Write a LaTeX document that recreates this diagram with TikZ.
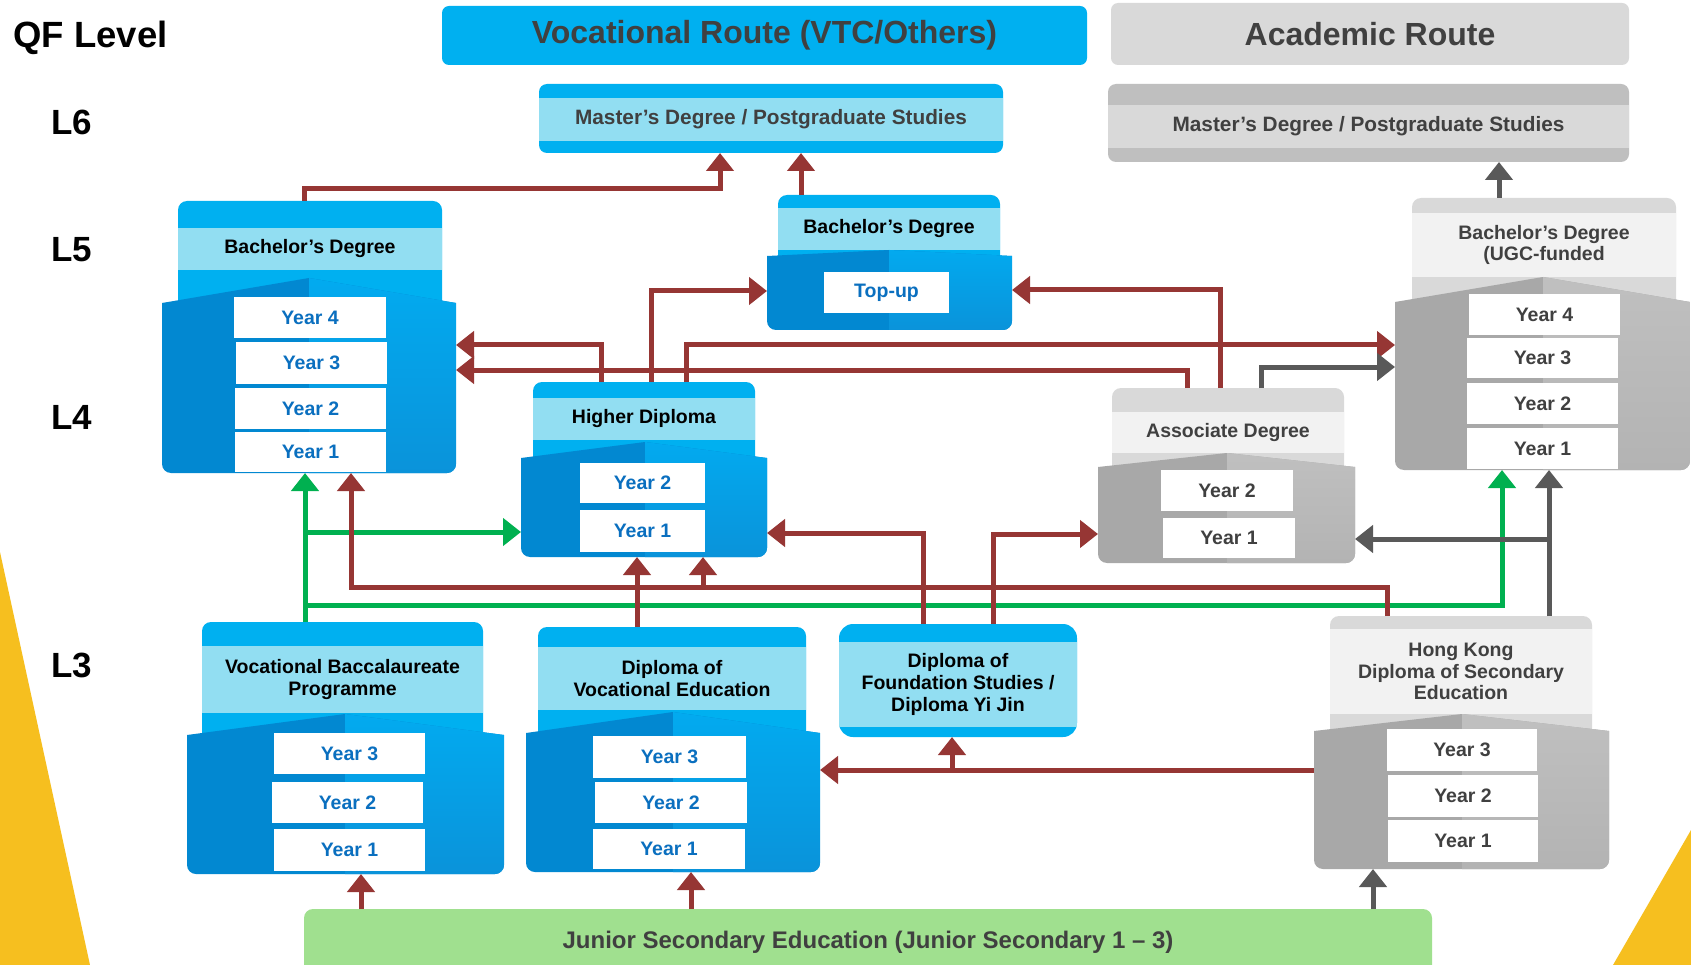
\documentclass[tikz,border=0pt]{standalone}
\usepackage{fontspec}
\setmainfont{Liberation Sans}
\usetikzlibrary{arrows.meta,calc}
\definecolor{btop}{HTML}{00B0F0}
\definecolor{bband}{HTML}{92DEF2}
\definecolor{bdark}{HTML}{0288D1}
\definecolor{blightA}{HTML}{02ABF0}
\definecolor{blightB}{HTML}{0A93DA}
\definecolor{gtop}{HTML}{D9D9D9}
\definecolor{gband}{HTML}{F2F2F2}
\definecolor{gdark}{HTML}{A8A8A8}
\definecolor{glightA}{HTML}{C0C0C0}
\definecolor{glightB}{HTML}{B3B3B3}
\definecolor{gmaster}{HTML}{BFBFBF}
\definecolor{ybtxt}{HTML}{0A6FBF}
\definecolor{darktxt}{HTML}{404040}
\definecolor{arrred}{HTML}{963634}
\definecolor{arrgreen}{HTML}{00B050}
\definecolor{arrgrey}{HTML}{595959}
\definecolor{ybg}{HTML}{F6BF1F}
\definecolor{jsgreen}{HTML}{A0E08F}
\tikzset{
  hfont/.style={font=\bfseries\fontsize{19.5}{21.6}\selectfont},
  boxbase/.style={inner sep=0pt, outer sep=0pt},
  topblk/.style={boxbase, rounded corners=9pt},
  band/.style={boxbase, align=center, hfont},
  yearbox/.style={boxbase, fill=white, font=\bfseries\fontsize{19.5}{21}\selectfont},
  anchorbox/.style={boxbase},
  lvl/.style={anchor=west, font=\bfseries\fontsize{35}{38}\selectfont},
  conn/.style={line width=5pt, -{Triangle[length=18pt,width=27pt]}},
  redc/.style={conn, draw=arrred},
  greenc/.style={conn, draw=arrgreen},
  greyc/.style={conn, draw=arrgrey},
}
% rectangle node from pixel corners: options, name, x1, y1, x2, y2, text
\newcommand{\rbox}[7]{\node[#1, minimum width={(#5)-(#3)}, minimum height={(#6)-(#4)}] (#2) at ({((#3)+(#5))/2},{((#4)+(#6))/2}) {#7};}
\newcommand{\cardtop}[6]{\rbox{topblk, fill=#6top}{#1top}{#2}{#4}{#3}{#5}{}}
\newcommand{\cardbody}[8]{%
  \begin{scope}
    \clip (#2,#4) -- (#7,#5) -- (#3,#4) -- (#3,#6+2) -- (#2,#6+2) -- cycle;
    \fill[#8dark, rounded corners=9pt] (#2,#5-5) rectangle (#3,#6);
    \begin{scope}
      \clip (#7,#5-10) rectangle (#3+2,#6+2);
      \shade[top color=#8lightA, bottom color=#8lightB, rounded corners=9pt] (#2,#5-5) rectangle (#3,#6);
    \end{scope}
  \end{scope}
  \rbox{anchorbox}{#1}{#2}{#5}{#3}{#6}{}
}
\begin{document}
\begin{tikzpicture}[x=1pt,y=-1pt]
\useasboundingbox (0,0) rectangle (1691,965);
\fill[white] (0,0) rectangle (1691,965);
\fill[ybg] (0,552) -- (90,965) -- (0,965) -- cycle;
\fill[ybg] (1691,830) -- (1613,965) -- (1691,965) -- cycle;

% level labels
\node[anchor=west, font=\bfseries\fontsize{36.5}{40}\selectfont] (qf) at (10,38) {QF Level};
\node[lvl] (l6) at (48,122) {L6};
\node[lvl] (l5) at (48,250) {L5};
\node[lvl] (l4) at (48,417) {L4};
\node[lvl] (l3) at (48,665) {L3};

% route headers
\rbox{boxbase, fill=btop, rounded corners=7pt, text=darktxt, font=\bfseries\fontsize{32}{36}\selectfont}{voc}{442}{6}{1087}{65}{Vocational Route (VTC/Others)}
\rbox{boxbase, fill=gtop, rounded corners=7pt, text=darktxt, font=\bfseries\fontsize{32}{36}\selectfont}{acad}{1111}{3}{1629}{65}{Academic Route}

% masters
\rbox{boxbase, fill=btop, rounded corners=8pt}{mvocbox}{539}{84}{1003}{153}{}
\rbox{boxbase, fill=bband, text=darktxt, font=\bfseries\fontsize{20.8}{22}\selectfont}{mvoc}{539}{98}{1003}{141}{Master’s Degree / Postgraduate Studies}
\rbox{boxbase, fill=gmaster, rounded corners=8pt}{macadbox}{1108}{84}{1629}{162}{}
\rbox{boxbase, fill=gtop, text=darktxt, font=\bfseries\fontsize{20.8}{22}\selectfont}{macad}{1108}{105}{1629}{148}{Master’s Degree / Postgraduate Studies}

% Bachelor (vocational, left)
\cardtop{bachL}{178}{442}{201}{318}{b}
\rbox{band, fill=bband}{bachLhd}{178}{228}{442}{270}{Bachelor’s Degree}
\cardbody{bachL}{162}{456}{303}{278}{473}{309}{b}
\rbox{yearbox, text=ybtxt}{bachLy4}{234}{297}{386}{338}{Year 4}
\rbox{yearbox, text=ybtxt}{bachLy3}{236}{342}{387}{384}{Year 3}
\rbox{yearbox, text=ybtxt}{bachLy2}{235}{388}{386}{429}{Year 2}
\rbox{yearbox, text=ybtxt}{bachLy1}{235}{432}{386}{472}{Year 1}

% Bachelor top-up
\cardtop{tup}{778}{1000}{195}{270}{b}
\rbox{band, fill=bband}{tuphd}{778}{208}{1000}{250}{Bachelor’s Degree}
\cardbody{tup}{767}{1012}{256}{250}{330}{889}{b}
\rbox{yearbox, text=ybtxt}{tupy}{824}{272}{949}{313}{Top-up}

% Higher Diploma
\cardtop{hd}{533}{755}{382}{473}{b}
\rbox{band, fill=bband}{hdhd}{533}{398}{755}{440}{Higher Diploma}
\cardbody{hd}{521}{767}{458}{442}{557}{645}{b}
\rbox{yearbox, text=ybtxt}{hdy2}{580}{463}{705}{503}{Year 2}
\rbox{yearbox, text=ybtxt}{hdy1}{580}{510}{705}{552}{Year 1}

% Associate Degree
\cardtop{assoc}{1112}{1344}{388}{482}{g}
\rbox{band, fill=gband, text=darktxt}{assochd}{1112}{412}{1344}{453}{Associate Degree}
\cardbody{assoc}{1098}{1355}{467}{453}{563}{1227}{g}
\rbox{yearbox, text=darktxt}{assocy2}{1161}{470}{1293}{511}{Year 2}
\rbox{yearbox, text=darktxt}{assocy1}{1163}{518}{1295}{558}{Year 1}

% Bachelor UGC-funded
\cardtop{ugc}{1412}{1676}{198}{317}{g}
\rbox{band, fill=gband, text=darktxt}{ugchd}{1412}{213}{1676}{277}{Bachelor’s Degree\\(UGC-funded}
\cardbody{ugc}{1395}{1690}{302}{277}{470}{1543}{g}
\rbox{yearbox, text=darktxt}{ugcy4}{1469}{294}{1620}{335}{Year 4}
\rbox{yearbox, text=darktxt}{ugcy3}{1467}{338}{1618}{378}{Year 3}
\rbox{yearbox, text=darktxt}{ugcy2}{1467}{383}{1618}{424}{Year 2}
\rbox{yearbox, text=darktxt}{ugcy1}{1467}{428}{1618}{469}{Year 1}

% Vocational Baccalaureate Programme
\cardtop{vbp}{202}{483}{622}{750}{b}
\rbox{band, fill=bband}{vbphd}{202}{646}{483}{713}{Vocational Baccalaureate\\Programme}
\cardbody{vbp}{187}{504}{735}{714}{874}{345}{b}
\rbox{yearbox, text=ybtxt}{vbpy3}{274}{733}{425}{774}{Year 3}
\rbox{yearbox, text=ybtxt}{vbpy2}{272}{782}{423}{823}{Year 2}
\rbox{yearbox, text=ybtxt}{vbpy1}{274}{829}{425}{871}{Year 1}

% Diploma of Vocational Education
\cardtop{dve}{538}{806}{627}{748}{b}
\rbox{band, fill=bband}{dvehd}{538}{647}{806}{710}{Diploma of\\Vocational Education}
\cardbody{dve}{526}{820}{733}{712}{872}{673}{b}
\rbox{yearbox, text=ybtxt}{dvey3}{593}{736}{746}{778}{Year 3}
\rbox{yearbox, text=ybtxt}{dvey2}{595}{782}{747}{823}{Year 2}
\rbox{yearbox, text=ybtxt}{dvey1}{593}{829}{745}{869}{Year 1}

% Diploma of Foundation Studies
\rbox{boxbase, fill=btop, rounded corners=14pt}{dfs}{839}{624}{1077}{737}{}
\rbox{band, fill=bband}{dfshd}{839}{642}{1077}{727}{Diploma of\\Foundation Studies /\\Diploma Yi Jin}

% HKDSE
\cardtop{hkdse}{1330}{1592}{616}{746}{g}
\rbox{band, fill=gband, text=darktxt}{hkdsehd}{1330}{629}{1592}{714}{Hong Kong\\Diploma of Secondary\\Education}
\cardbody{hkdse}{1314}{1609}{731}{714}{869}{1462}{g}
\rbox{yearbox, text=darktxt}{hkdsey3}{1387}{729}{1537}{771}{Year 3}
\rbox{yearbox, text=darktxt}{hkdsey2}{1388}{775}{1538}{817}{Year 2}
\rbox{yearbox, text=darktxt}{hkdsey1}{1388}{820}{1538}{862}{Year 1}

% Junior secondary
\rbox{boxbase, fill=jsgreen, rounded corners=9pt, text=darktxt, font=\bfseries\fontsize{24}{26}\selectfont}{junior}{304}{909}{1432}{975}{Junior Secondary Education (Junior Secondary 1 – 3)}

% ---------- connectors ----------
\coordinate (c1) at (720,189);
\coordinate (c2) at (351,587);
\coordinate (c3) at (703,587);
\coordinate (c4) at (952,770);
\coordinate (c5) at (305,532);
\coordinate (c6) at (305,605);
\coordinate (c7) at (1549,539);

% green
\draw[greenc] (vbptop.north -| 305,0) -- (bachL.south -| 305,0);
\draw[greenc] (c5) -- (hd.west |- c5);
\draw[greenc] (c6) -| (ugc.south -| 1502,0);

% red
\draw[redc] (bachLtop.north -| 304,0) |- (c1) -- (mvocbox.south -| c1);
\draw[redc] (tuptop.north -| 801,0) -- (mvocbox.south -| 801,0);
\draw[redc] (hdtop.north -| 601,0) |- (bachL.east |- 0,345);
\draw[redc] (hdtop.north -| 651,0) |- (tup.west |- 0,291);
\draw[redc] (hdtop.north -| 686,0) |- (ugc.west |- 0,345);
\draw[redc] (assoctop.north -| 1187,0) |- (bachL.east |- 0,370);
\draw[redc] (assoctop.north -| 1220,0) |- (tup.east |- 0,290);
\draw[redc] (dfs.north -| 923,0) |- (hd.east |- 0,533);
\draw[redc] (dfs.north -| 993,0) |- (assoc.west |- 0,534);
\draw[redc] (hkdsetop.north -| 1387,0) |- (c2) -- (bachL.south -| c2);
\draw[redc] (c3) -- (hd.south -| c3);
\draw[redc] (dvetop.north -| 637,0) -- (hd.south -| 637,0);
\draw[redc] (hkdse.west |- 0,770) -- (dve.east |- 0,770);
\draw[redc] (c4) -- (dfs.south -| c4);
\draw[redc] (junior.north -| 361,0) -- (vbp.south -| 361,0);
\draw[redc] (junior.north -| 691,0) -- (dve.south -| 691,0);

% grey
\draw[greyc] (ugctop.north -| 1499,0) -- (macadbox.south -| 1499,0);
\draw[greyc] (assoctop.north -| 1261,0) |- (ugc.west |- 0,367);
\draw[greyc] (hkdsetop.north -| 1549,0) -- (ugc.south -| 1549,0);
\draw[greyc] (c7) -- (assoc.east |- c7);
\draw[greyc] (junior.north -| 1373,0) -- (hkdse.south -| 1373,0);
\end{tikzpicture}
\end{document}
